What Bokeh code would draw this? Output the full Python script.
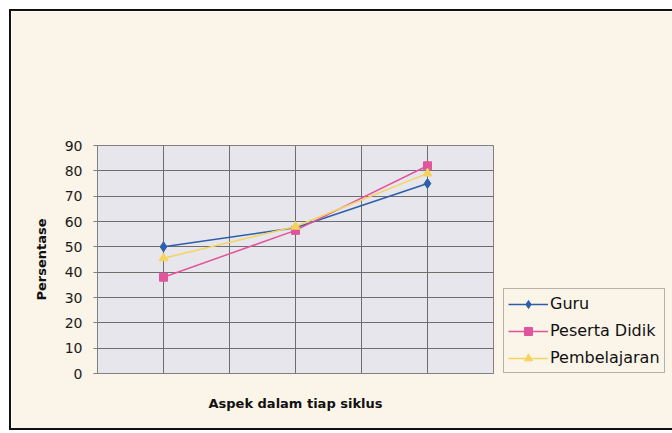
from bokeh.plotting import figure
from bokeh.models import Range1d, FixedTicker, Legend, LegendItem
from bokeh.embed import file_html
from bokeh.resources import INLINE

# Data
siklus = [1, 2, 3]
guru = [50, 57.5, 75]
peserta_didik = [38, 56.5, 82]
pembelajaran = [45.5, 58, 79]
y_ticks = [0, 10, 20, 30, 40, 50, 60, 70, 80, 90]

CREAM = "#fbf4e8"
FONT = "DejaVu Sans"
p = figure(frame_width=396, frame_height=228, output_backend="svg", toolbar_location=None,
           x_range=Range1d(0.5, 3.5), y_range=Range1d(0, 90),
           min_border_left=86, min_border_right=179, min_border_top=134, min_border_bottom=55)
p.styles = {"box-shadow": "0 0 0 2px #111111", "margin-left": "11px", "margin-top": "11px"}
p.background_fill_color = "#e6e6ec"
p.border_fill_color = CREAM
p.outline_line_color = "#808080"
p.outline_line_width = 1

p.xgrid.ticker = FixedTicker(ticks=[1, 1.5, 2, 2.5, 3])
p.ygrid.ticker = FixedTicker(ticks=y_ticks)
for g in (p.xgrid, p.ygrid):
    g.grid_line_color = "#6e6e6e"
    g.grid_line_width = 1

p.xaxis.ticker = FixedTicker(ticks=[])
p.xaxis.major_label_text_font_size = "0px"
p.xaxis.major_tick_line_color = None
p.xaxis.minor_tick_line_color = None
p.xaxis.axis_line_color = "#808080"
p.xaxis.axis_label = "Aspek dalam tiap siklus"
p.xaxis.axis_label_text_font = FONT
p.xaxis.axis_label_text_font_style = "bold"
p.xaxis.axis_label_text_font_size = "13px"
p.xaxis.axis_label_text_color = "#111111"
p.xaxis.axis_label_standoff = 22

p.yaxis.ticker = FixedTicker(ticks=y_ticks)
p.yaxis.minor_tick_line_color = None
p.yaxis.axis_line_color = "#808080"
p.yaxis.major_tick_line_color = "#808080"
p.yaxis.major_tick_out = 4
p.yaxis.major_tick_in = 0
p.yaxis.major_label_text_font = FONT
p.yaxis.major_label_text_font_size = "14px"
p.yaxis.major_label_text_color = "#1a1a1a"
p.yaxis.major_label_standoff = 11
p.yaxis.axis_label = "Persentase"
p.yaxis.axis_label_text_font = FONT
p.yaxis.axis_label_text_font_style = "bold"
p.yaxis.axis_label_text_font_size = "13px"
p.yaxis.axis_label_text_color = "#111111"
p.yaxis.axis_label_standoff = 13

BLUE = "#2f5ea8"
PINK = "#e2559c"
YELLOW = "#f5d35c"

l1 = p.line(siklus, guru, line_color=BLUE, line_width=1.5)
m1 = p.scatter(siklus, guru, marker="diamond", size=10, fill_color=BLUE, line_color=BLUE)
l2 = p.line(siklus, peserta_didik, line_color=PINK, line_width=1.5)
m2 = p.scatter(siklus, peserta_didik, marker="square", size=8, fill_color=PINK, line_color=PINK)
l3 = p.line(siklus, pembelajaran, line_color=YELLOW, line_width=1.5)
m3 = p.scatter(siklus, pembelajaran, marker="triangle", size=9, fill_color=YELLOW, line_color=YELLOW)

legend = Legend(items=[
    LegendItem(label="Guru", renderers=[l1, m1]),
    LegendItem(label="Peserta Didik", renderers=[l2, m2]),
    LegendItem(label="Pembelajaran", renderers=[l3, m3]),
], location=(10, 0))
legend.label_text_font = FONT
legend.label_text_font_size = "16px"
legend.label_text_color = "#111111"
legend.background_fill_color = CREAM
legend.background_fill_alpha = 1
legend.border_line_color = "#707070"
legend.border_line_width = 1
legend.glyph_width = 40
legend.label_height = 21
legend.label_standoff = 2
legend.spacing = 6
legend.padding = 4
legend.margin = 0
p.add_layout(legend, "right")

open("out.html", "w").write(file_html(p, INLINE))
